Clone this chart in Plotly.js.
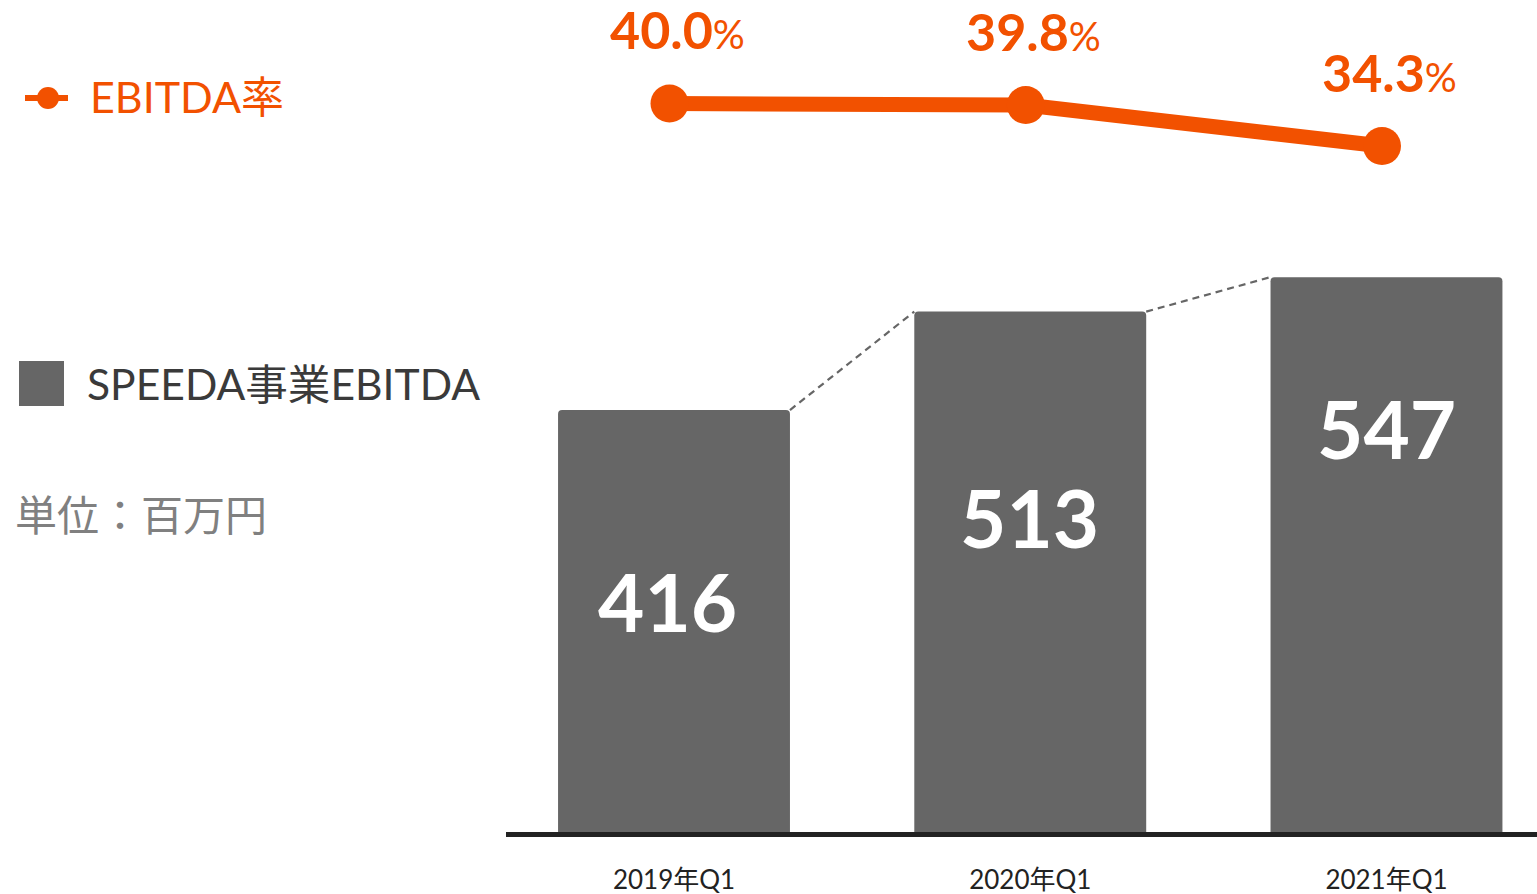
<!DOCTYPE html>
<html>
<head>
<meta charset="utf-8">
<script src="https://cdn.plot.ly/plotly-3.0.1.min.js"></script>
<style>html,body{margin:0;padding:0;background:#fff;}#chart{width:1537px;height:894px;}</style>
</head>
<body>
<div id="chart"></div>
<script>
// ---- data ----
const categories = ["2019年Q1", "2020年Q1", "2021年Q1"];
const ebitda = [416, 513, 547];          // SPEEDA事業EBITDA (百万円)
const ebitdaRate = [40.0, 39.8, 34.3];   // EBITDA率 (%)
const barName = "SPEEDA事業EBITDA";
const lineName = "EBITDA率";
const unitLabel = "単位：百万円";

// ---- style ----
const FONT = "Lato, 'Noto Sans CJK JP', sans-serif";
const ORANGE = "#f25100";
const BAR = "#666666";
const W = 1537, H = 894, ML = 506, MB = 62;
const plotW = W - ML, plotH = H - MB;
const barWidth = 0.651;
const barLabelShift = [191, 205, 151];
const barLabelXShift = [-7, -1, 0];

const xs = categories.map((_, i) => i);
const px = p => (p - ML) / plotW;
const py = p => (plotH - p) / plotH;

// connectors between bar top corners
const cx = [], cy = [];
for (let i = 0; i < ebitda.length - 1; i++) {
  cx.push(xs[i] + barWidth / 2, xs[i + 1] - barWidth / 2, null);
  cy.push(ebitda[i], ebitda[i + 1], null);
}

const traces = [
  {
    type: "bar", x: xs, y: ebitda, width: barWidth, name: barName,
    marker: {color: BAR, cornerradius: 4}, hoverinfo: "skip", showlegend: false
  },
  {
    type: "scatter", mode: "lines", x: cx, y: cy, hoverinfo: "skip", showlegend: false,
    line: {color: "#666666", width: 2.2, dash: "7px,5px"}
  },
  {
    type: "scatter", mode: "lines+markers", x: xs, y: ebitdaRate, xaxis: "x2", yaxis: "y2",
    name: lineName, showlegend: false, hoverinfo: "skip",
    line: {color: ORANGE, width: 15}, marker: {color: ORANGE, size: 38}
  }
];

const annotations = [];
ebitda.forEach((v, i) => {
  annotations.push({
    x: xs[i], y: v, xref: "x", yref: "y", yanchor: "middle",
    yshift: -barLabelShift[i], xshift: barLabelXShift[i],
    text: String(v), showarrow: false,
    font: {family: FONT, size: 80, color: "#ffffff", weight: 700}
  });
});
ebitdaRate.forEach((v, i) => {
  annotations.push({
    x: xs[i], y: v, xref: "x2", yref: "y2", yanchor: "bottom", yshift: 42, xshift: 8,
    borderpad: 0,
    text: "<b>" + v.toFixed(1) + "</b><span style='font-size:40px'>%</span>", showarrow: false,
    font: {family: FONT, size: 52, color: ORANGE}
  });
});
// legend texts
annotations.push({
  xref: "paper", yref: "paper", x: px(88), y: py(97), xanchor: "left", yanchor: "middle",
  text: lineName, showarrow: false, font: {family: FONT, size: 43, color: ORANGE}
});
annotations.push({
  xref: "paper", yref: "paper", x: px(85), y: py(383), xanchor: "left", yanchor: "middle",
  text: barName, showarrow: false, font: {family: FONT, size: 42.6, color: "#3a3a3a"}
});
annotations.push({
  xref: "paper", yref: "paper", x: px(13), y: py(515), xanchor: "left", yanchor: "middle",
  text: unitLabel, showarrow: false, font: {family: FONT, size: 42, color: "#808080"}
});

const shapes = [
  {type: "line", xref: "paper", yref: "paper", x0: px(25), x1: px(68), y0: py(98), y1: py(98),
   line: {color: ORANGE, width: 6}},
  {type: "circle", xref: "paper", yref: "paper", x0: px(37), x1: px(59), y0: py(87), y1: py(109),
   fillcolor: ORANGE, line: {width: 0}},
  {type: "rect", xref: "paper", yref: "paper", x0: px(19), x1: px(64), y0: py(361), y1: py(406),
   fillcolor: BAR, line: {width: 0}}
];

const shift = 4.5 / 356.25;
const layout = {
  width: W, height: H,
  margin: {l: ML, r: 0, t: 0, b: MB, pad: 0},
  paper_bgcolor: "#ffffff", plot_bgcolor: "#ffffff",
  showlegend: false,
  font: {family: FONT},
  xaxis: {
    range: [-0.4716, 2.4225], tickvals: xs, ticktext: categories,
    showgrid: false, zeroline: false, showline: true, linecolor: "#222222", linewidth: 5,
    ticks: "outside", ticklen: 21, tickcolor: "rgba(0,0,0,0)",
    tickfont: {family: FONT, size: 26, color: "#222222"}, fixedrange: true
  },
  xaxis2: {
    overlaying: "x", range: [-0.4716 + shift, 2.4225 + shift], visible: false, fixedrange: true
  },
  yaxis: {range: [0, 820.2], visible: false, showgrid: false, zeroline: false, fixedrange: true},
  yaxis2: {overlaying: "y", range: [-57.71, 53.88], visible: false, fixedrange: true},
  annotations: annotations,
  shapes: shapes
};

Plotly.newPlot("chart", traces, layout, {displayModeBar: false, staticPlot: true});
</script>
</body>
</html>
